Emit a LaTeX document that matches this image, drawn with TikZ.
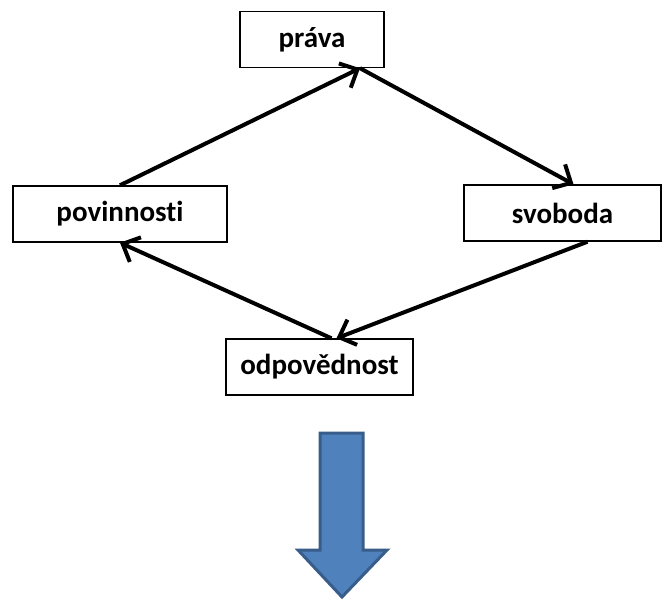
\documentclass[tikz,border=0pt]{standalone}
\usepackage{fontspec}
\setmainfont{Carlito}[Ligatures=NoCommon]
\usetikzlibrary{arrows.meta}
\definecolor{arrowfill}{RGB}{79,129,189}
\definecolor{arrowedge}{RGB}{56,93,138}

\begin{document}
\begin{tikzpicture}[x=1pt,y=-1pt,
    box/.style={draw,line width=1.4pt,minimum height=56pt,inner sep=0pt,
      font=\fontsize{29}{34}\selectfont\bfseries},
    conn/.style={line width=4pt,-{Straight Barb[length=14pt,width=27pt,line width=4pt]}}]
    \useasboundingbox (0,0) rectangle (667,600);
    \node [box,minimum width=144pt] (prava) at (312,39.5) {práva};
    \node [box,minimum width=214pt] (povinnosti) at (120,214) {povinnosti};
    \node [box,minimum width=197pt] (svoboda) at (562.5,213) {svoboda};
    \node [box,minimum width=187pt] (odpovednost) at (319.5,367) {odpovědnost};
    \draw [conn] (povinnosti.north) -- ([xshift=48pt]prava.south);
    \draw [conn] ([xshift=48pt]prava.south) -- ([xshift=11pt]svoboda.north);
    \draw [conn] ([xshift=25pt]svoboda.south) -- ([xshift=17pt]odpovednost.north);
    \draw [conn] ([xshift=12pt]odpovednost.north) -- (povinnosti.south);
    % velka sipka dolu
    \draw [fill=arrowfill,draw=arrowedge,line width=3pt,line join=miter]
      (320,433) -- (363,433) -- (363,550) -- (387,550) -- (342,597)
      -- (298,550) -- (320,550) -- cycle;
\end{tikzpicture}
\end{document}
